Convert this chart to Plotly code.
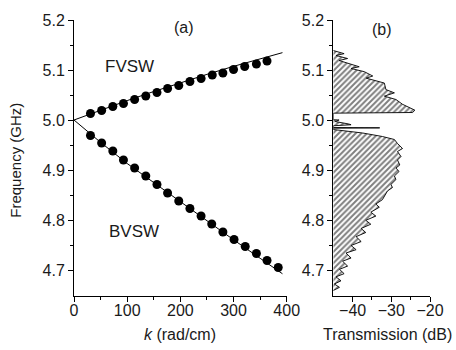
import plotly.graph_objects as go

# ---- panel (a): dispersion data ----
k_fvsw = [31, 52, 73, 93, 114, 135, 156, 176, 197, 218, 239, 260, 280, 300, 321, 343, 363]
f_fvsw = [5.013, 5.019, 5.027, 5.033, 5.041, 5.048, 5.055, 5.063, 5.069, 5.077, 5.083,
          5.090, 5.094, 5.101, 5.107, 5.112, 5.118]

k_bvsw = [31, 52, 73, 93, 114, 135, 156, 176, 197, 218, 239, 259, 280, 301, 322, 343, 363, 384]
f_bvsw = [4.969, 4.954, 4.938, 4.920, 4.904, 4.888, 4.871, 4.854, 4.838, 4.823, 4.808,
          4.792, 4.776, 4.761, 4.747, 4.733, 4.719, 4.705]

k_theory = [0, 50, 100, 150, 200, 250, 300, 350, 392]
f_theory_fvsw = [5.0, 5.0198, 5.0388, 5.0570, 5.0745, 5.0913, 5.1073, 5.1225, 5.1347]
f_theory_bvsw = [5.0, 4.9553, 4.9130, 4.8745, 4.8362, 4.7985, 4.7605, 4.7235, 4.6925]

# ---- panel (b): transmission profile (frequency GHz, transmission dB) ----
f_trans = [5.139, 5.1327, 5.129, 5.123, 5.119, 5.1065, 5.103, 5.0967, 5.088, 5.0837,
           5.0739, 5.0608, 5.0543, 5.0477, 5.041, 5.0314, 5.0196, 5.015, 5.0137,
           5.0005, 5.0000, 4.997, 4.992, 4.9905, 4.9885, 4.9850, 4.9843, 4.9836,
           4.981, 4.979, 4.974, 4.967, 4.961, 4.953, 4.943, 4.937, 4.927, 4.920,
           4.910, 4.904, 4.897, 4.888, 4.881, 4.871, 4.865, 4.858, 4.848,
           4.8406, 4.832, 4.8255, 4.8157, 4.8078, 4.7994, 4.7916, 4.783, 4.775,
           4.7667, 4.7569, 4.749, 4.7406, 4.734, 4.724, 4.7176, 4.7078, 4.7014,
           4.6927, 4.6863, 4.6784, 4.672, 4.6653, 4.659]
t_trans = [-45, -42.2, -44.3, -41.3, -43.5, -38.3, -40.4, -37.0, -34.8, -36.5,
           -31.8, -31.4, -29.2, -31.8, -28.8, -27.1, -23.9, -24.5, -45,
           -45, -43.5, -44.5, -41.0, -40.4, -45, -45, -33.0, -45,
           -45, -43.0, -37.4, -32.3, -29.2, -28.4, -27.1, -28.4, -27.5, -28.4,
           -27.8, -28.8, -28.0, -29.2, -28.8, -30.1, -29.7, -31.0, -31.8,
           -32.3, -34.0, -33.1, -35.3, -34.0, -36.6, -35.3, -37.8, -36.6,
           -39.1, -37.8, -40.4, -39.1, -41.7, -40.4, -42.6, -41.3, -43.4,
           -42.2, -44.3, -43.0, -44.7, -43.4, -45]

FONT = "Arial, Liberation Sans, Helvetica, sans-serif"
TXT = "#1a1a1a"

fig = go.Figure()

fig.add_trace(go.Scatter(x=k_theory, y=f_theory_fvsw, mode="lines",
                         line=dict(color="black", width=1), xaxis="x", yaxis="y",
                         hoverinfo="skip"))
fig.add_trace(go.Scatter(x=k_theory, y=f_theory_bvsw, mode="lines",
                         line=dict(color="black", width=1), xaxis="x", yaxis="y",
                         hoverinfo="skip"))
fig.add_trace(go.Scatter(x=k_fvsw, y=f_fvsw, mode="markers",
                         marker=dict(color="black", size=9), xaxis="x", yaxis="y"))
fig.add_trace(go.Scatter(x=k_bvsw, y=f_bvsw, mode="markers",
                         marker=dict(color="black", size=9), xaxis="x", yaxis="y"))

fig.add_trace(go.Scatter(x=t_trans, y=f_trans, mode="lines", fill="toself",
                         line=dict(color="black", width=0.9),
                         fillcolor="white",
                         fillpattern=dict(shape="/", fgcolor="black", bgcolor="white",
                                          size=4, solidity=0.5),
                         xaxis="x2", yaxis="y2"))

axis_common = dict(
    showline=True, linecolor="black", linewidth=1, mirror=False,
    ticks="outside", ticklen=5, tickwidth=1, tickcolor="black",
    showgrid=False, zeroline=False,
    tickfont=dict(family=FONT, size=16, color=TXT),
)

fig.update_layout(
    width=456, height=350,
    margin=dict(l=74, r=25, t=15, b=54),
    paper_bgcolor="white", plot_bgcolor="white",
    showlegend=False,
    xaxis=dict(domain=[0, 0.5975], range=[0, 400], tickvals=[0, 100, 200, 300, 400],
               ticklabelstandoff=-5,
               minor=dict(tickvals=[50, 150, 250, 350], ticklen=3, ticks="outside",
                          tickcolor="black"),
               anchor="y", **axis_common),
    yaxis=dict(range=[4.648, 5.2], tickvals=[4.7, 4.8, 4.9, 5.0, 5.1, 5.2],
               tickformat=".1f",
               minor=dict(tickvals=[4.75, 4.85, 4.95, 5.05, 5.15], ticklen=3,
                          ticks="outside", tickcolor="black"),
               anchor="x", **axis_common),
    xaxis2=dict(domain=[0.7283, 1], range=[-45, -20], tickvals=[-40, -30, -20],
                ticklabelstandoff=-5,
                minor=dict(tickvals=[-35, -25], ticklen=3, ticks="outside",
                           tickcolor="black"),
                anchor="y2", **axis_common),
    yaxis2=dict(range=[4.648, 5.2], tickvals=[4.7, 4.8, 4.9, 5.0, 5.1, 5.2],
                tickformat=".1f",
                minor=dict(tickvals=[4.75, 4.85, 4.95, 5.05, 5.15], ticklen=3,
                           ticks="outside", tickcolor="black"),
                anchor="x2", **axis_common),
)

def txt(text, x, y, xref, yref, size, angle=0):
    return dict(text=text, x=x, y=y, xref=xref, yref=yref, textangle=angle,
                xanchor="center", yanchor="middle", showarrow=False,
                font=dict(family=FONT, size=size, color=TXT))

ann = [
    txt("Frequency (GHz)", -0.165, 0.491, "paper", "paper", 15, -90),
    txt("<i>k</i> (rad/cm)", 0.297, -0.139, "paper", "paper", 16),
    txt("Transmission (dB)", 0.8796, -0.139, "paper", "paper", 16),
    txt("FVSW", 105, 5.1065, "x", "y", 17),
    txt("BVSW", 113, 4.7765, "x", "y", 17),
    txt("(a)", 206, 5.185, "x", "y", 16),
    txt("(b)", -32.3, 5.182, "x2", "y2", 16),
]
fig.update_layout(annotations=ann)

fig.write_html("out.html", config={"displayModeBar": False},
               post_script="document.body.style.margin='0';document.body.style.padding='0';")
